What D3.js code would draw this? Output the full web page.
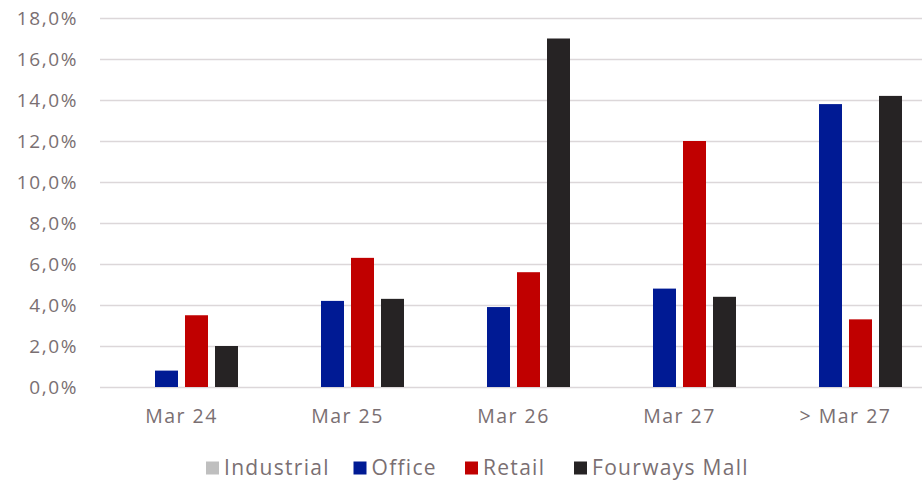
<!DOCTYPE html>
<html>
<head>
<meta charset="utf-8">
<script src="https://cdn.jsdelivr.net/npm/d3@7"></script>
<style>
  html, body { margin: 0; padding: 0; background: #fff; }
  svg { display: block; }
  text { font-family: "Open Sans", Lato, sans-serif; fill: #7a6f72; }
</style>
</head>
<body>
<svg id="chart" width="922" height="483"></svg>
<script>
// Maturity buckets and the share of rental income expiring in each
const categories = ["Mar 24", "Mar 25", "Mar 26", "Mar 27", "> Mar 27"];
const seriesNames = ["Industrial", "Office", "Retail", "Fourways Mall"];
const seriesColors = ["#bfbfbf", "#001a94", "#c00000", "#262324"];
const industrial = [0, 0, 0, 0, 0];
const office = [0.8, 4.2, 3.9, 4.8, 13.8];
const retail = [3.5, 6.3, 5.6, 12.0, 3.3];
const fourwaysMall = [2.0, 4.3, 17.0, 4.4, 14.2];
const yTicks = [0, 2, 4, 6, 8, 10, 12, 14, 16, 18];

const seriesValues = [industrial, office, retail, fourwaysMall];

const svg = d3.select("#chart");
const plot = { left: 98.5, right: 928.5, top: 18, bottom: 387 };

const x0 = d3.scaleBand()
  .domain(categories)
  .range([plot.left, plot.right])
  .paddingInner(0)
  .paddingOuter(0);

const x1 = d3.scaleBand()
  .domain(seriesNames)
  .range([26.5, x0.bandwidth() - 26.5])
  .paddingInner(7 / 30);

const y = d3.scaleLinear().domain([0, 18]).range([plot.bottom, plot.top]);

const fmt = v => v.toFixed(1).replace(".", ",") + "%";

// Horizontal gridlines
svg.append("g")
  .selectAll("line")
  .data(yTicks)
  .join("line")
  .attr("x1", 100)
  .attr("x2", 922)
  .attr("y1", d => Math.round(y(d)) + 0.5)
  .attr("y2", d => Math.round(y(d)) + 0.5)
  .attr("stroke", "#dcd7d9")
  .attr("stroke-width", 1.5);

// Y axis labels
const yAxis = d3.axisLeft(y).tickValues(yTicks).tickFormat(fmt).tickSize(0).tickPadding(0);
const yg = svg.append("g").attr("transform", "translate(78,0)").call(yAxis);
yg.select(".domain").remove();
yg.selectAll("text")
  .attr("font-size", 19)
  .attr("letter-spacing", 1.6)
  .attr("font-family", null)
  .attr("fill", null)
  .attr("dy", "0.35em");

// Bars
const groups = svg.append("g")
  .selectAll("g")
  .data(categories)
  .join("g")
  .attr("transform", d => `translate(${x0(d)},0)`);

groups.selectAll("rect")
  .data((c, i) => seriesNames.map((s, k) => ({ s, k, v: seriesValues[k][i] })))
  .join("rect")
  .attr("x", d => x1(d.s))
  .attr("width", x1.bandwidth())
  .attr("y", d => y(d.v))
  .attr("height", d => y(0) - y(d.v))
  .attr("fill", d => seriesColors[d.k]);

// X axis labels
const xAxis = d3.axisBottom(x0).tickSize(0).tickPadding(0);
const xg = svg.append("g").attr("transform", "translate(0,416)").call(xAxis);
xg.select(".domain").remove();
xg.selectAll("text")
  .attr("font-size", 19.5)
  .attr("letter-spacing", 1.5)
  .attr("font-family", null)
  .attr("fill", null)
  .attr("dy", "0.35em");

// Legend
const legendX = [206, 353.5, 465, 574];
const legend = svg.append("g")
  .selectAll("g")
  .data(seriesNames)
  .join("g")
  .attr("transform", (d, i) => `translate(${legendX[i]},468)`);
legend.append("rect")
  .attr("x", 0).attr("y", -6.5)
  .attr("width", 13).attr("height", 13)
  .attr("fill", (d, i) => seriesColors[i]);
legend.append("text")
  .attr("x", 18)
  .attr("dy", "0.35em")
  .attr("font-size", 21)
  .attr("letter-spacing", 1.3)
  .text(d => d);
</script>
</body>
</html>
